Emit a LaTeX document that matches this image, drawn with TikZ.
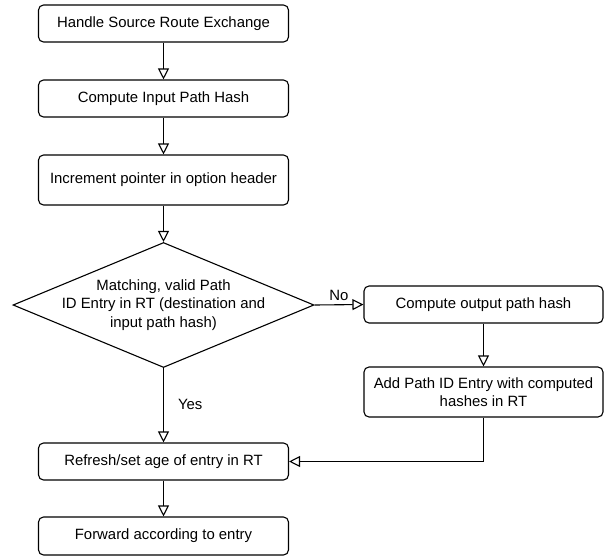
\documentclass[tikz,border=0pt]{standalone}
\usepackage{fontspec}
\setmainfont{Liberation Sans}
\usetikzlibrary{arrows.meta,shapes.geometric}
\begin{document}
\begin{tikzpicture}[x=1pt,y=-1pt,
        every node/.style={font=\fontsize{14.9}{18.5}\selectfont},
        stepbox/.style={draw, line width=1.1pt, rounded corners=5pt, minimum width=250pt, minimum height=37pt, inner sep=0pt, align=center},
        sidebox/.style={stepbox, minimum width=239pt},
        decision/.style={draw, line width=1.1pt, diamond, aspect=2.4, inner sep=-8pt, minimum width=301pt, minimum height=125pt, align=center},
        flow/.style={-{Triangle[open,length=11pt,width=11pt]}, line width=1.1pt}]
    \useasboundingbox (0,0) rectangle (611,557);
    \node[stepbox] (handle) at (163.5,23.5) {Handle Source Route Exchange};
    \node[stepbox] (inhash) at (163.5,98.5) {Compute Input Path Hash};
    \node[stepbox, minimum height=50pt] (incr) at (163.5,180) {Increment pointer in option header};
    \node[decision] (match) at (163.5,305) {Matching, valid Path\\ID Entry in RT (destination and\\input path hash)};
    \node[sidebox] (outhash) at (483.5,304.5) {Compute output path hash};
    \node[sidebox, minimum height=50pt] (addentry) at (483.5,392) {Add Path ID Entry with computed\\hashes in RT};
    \node[stepbox] (refresh) at (163.5,461.5) {Refresh/set age of entry in RT};
    \node[stepbox, minimum height=38pt] (forward) at (163.5,536) {Forward according to entry};
    \draw[flow] (handle) -- (inhash);
    \draw[flow] (inhash) -- (incr);
    \draw[flow] (incr) -- (match);
    \draw[flow] (match.east) -- node[above, pos=0.5, inner sep=4pt] (no) {No} (outhash.west);
    \draw[flow] (outhash) -- (addentry);
    \draw[flow] (addentry.south) |- (refresh.east);
    \draw[flow] (match.south) -- node[right, pos=0.49, inner sep=0pt, xshift=14pt] (yes) {Yes} (refresh.north);
    \draw[flow] (refresh) -- (forward);
\end{tikzpicture}
\end{document}
